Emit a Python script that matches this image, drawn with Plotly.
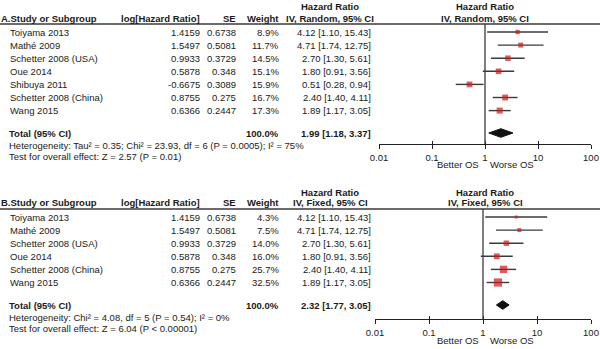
import plotly.graph_objects as go

# ---------------- data ----------------
studies_a = ["Toiyama 2013", "Mathé 2009", "Schetter 2008 (USA)", "Oue 2014",
             "Shibuya 2011", "Schetter 2008 (China)", "Wang 2015"]
loghr_a = ["1.4159", "1.5497", "0.9933", "0.5878", "-0.6675", "0.8755", "0.6366"]
se_a = ["0.6738", "0.5081", "0.3729", "0.348", "0.3089", "0.275", "0.2447"]
weight_a = [8.9, 11.7, 14.5, 15.1, 15.9, 16.7, 17.3]
hr_a = [4.12, 4.71, 2.70, 1.80, 0.51, 2.40, 1.89]
lo_a = [1.10, 1.74, 1.30, 0.91, 0.28, 1.40, 1.17]
hi_a = [15.43, 12.75, 5.61, 3.56, 0.94, 4.11, 3.05]
total_a = (1.99, 1.18, 3.37)
het_a = "Heterogeneity: Tau² = 0.35; Chi² = 23.93, df = 6 (P = 0.0005); I² = 75%"
test_a = "Test for overall effect: Z = 2.57 (P = 0.01)"

studies_b = ["Toiyama 2013", "Mathé 2009", "Schetter 2008 (USA)", "Oue 2014",
             "Schetter 2008 (China)", "Wang 2015"]
loghr_b = ["1.4159", "1.5497", "0.9933", "0.5878", "0.8755", "0.6366"]
se_b = ["0.6738", "0.5081", "0.3729", "0.348", "0.275", "0.2447"]
weight_b = [4.3, 7.5, 14.0, 16.0, 25.7, 32.5]
hr_b = [4.12, 4.71, 2.70, 1.80, 2.40, 1.89]
lo_b = [1.10, 1.74, 1.30, 0.91, 1.40, 1.17]
hi_b = [15.43, 12.75, 5.61, 3.56, 4.11, 3.05]
total_b = (2.32, 1.77, 3.05)
het_b = "Heterogeneity: Chi² = 4.08, df = 5 (P = 0.54); I² = 0%"
test_b = "Test for overall effect: Z = 6.04 (P < 0.00001)"

tick_vals = [0.01, 0.1, 1, 10, 100]
tick_text = ["0.01", "0.1", "1", "10", "100"]

# ---------------- layout constants ----------------
W, H = 600, 349
FONT = "Liberation Sans, Arial, sans-serif"
TXT = "#1a1a1a"
LINE = "#3a3a3a"
RED = "#cc1a1a"
PITCH = 13.1
FS = 9.5

fig = go.Figure()


def px(x):
    return x / W


def py(y):
    return 1 - y / H


def panel(letter, method, studies, loghr, se, weight, hr, lo, hi, total, het, test,
          first_row_px, axis_px, top_px, plot_x0, plot_x1, xa, ya, xo, total_row_px):
    yref = ya.replace("axis", "")
    xref = xa.replace("axis", "")
    oref = xo.replace("axis", "")
    n = len(studies)
    to_row = lambda p: (p - first_row_px) / PITCH
    row_px = lambda r: first_row_px + r * PITCH
    y_axis = to_row(axis_px)
    y_top = to_row(top_px)
    rows = list(range(n))
    total_row = to_row(total_row_px)

    common = dict(type="log", range=[-2, 2], domain=[px(plot_x0), px(plot_x1)],
                  anchor=yref, tickvals=tick_vals, tickwidth=1.3, tickcolor="#222",
                  showgrid=False, zeroline=False)
    fig.update_layout(**{
        xa: dict(common, ticktext=tick_text, ticks="outside", ticklen=4,
                 showline=True, linecolor="#222", linewidth=1.3,
                 tickfont=dict(family=FONT, size=FS, color=TXT)),
        xo: dict(common, overlaying=xref, ticks="inside", ticklen=3,
                 showticklabels=False, showline=False),
        ya: dict(range=[y_axis, y_top], domain=[py(axis_px), py(top_px)],
                 anchor=xref, visible=False, showgrid=False, zeroline=False),
    })
    # invisible trace to register the tick overlay axis
    fig.add_trace(go.Scatter(x=tick_vals, y=[y_axis] * len(tick_vals), mode="markers",
                             marker=dict(opacity=0), xaxis=oref, yaxis=yref,
                             hoverinfo="skip", showlegend=False))

    xs, ys = [], []
    for r, l, h in zip(rows, lo, hi):
        xs += [l, h, None]
        ys += [r, r, None]
    fig.add_trace(go.Scatter(x=xs, y=ys, mode="lines", xaxis=xref, yaxis=yref,
                             line=dict(color=LINE, width=1.4), hoverinfo="skip",
                             showlegend=False, cliponaxis=False))
    fig.add_trace(go.Scatter(x=hr, y=rows, mode="markers", xaxis=xref, yaxis=yref,
                             marker=dict(symbol="square", color=RED,
                                         size=[1.45 * w ** 0.5 for w in weight],
                                         line=dict(width=0)),
                             showlegend=False, cliponaxis=False))
    est, tl, th = total
    fig.add_trace(go.Scatter(x=[tl, est, th, est, tl],
                             y=[total_row, total_row - 0.33, total_row, total_row + 0.33, total_row],
                             mode="lines", fill="toself", fillcolor="#111",
                             line=dict(color="#111", width=1), xaxis=xref, yaxis=yref,
                             showlegend=False, cliponaxis=False))
    fig.add_shape(type="line", xref=xref, yref=yref, x0=1, x1=1, y0=y_top, y1=y_axis,
                  line=dict(color=LINE, width=1.3))
    fig.add_shape(type="line", xref="paper", yref="paper", x0=0, x1=1,
                  y0=py(top_px), y1=py(top_px), line=dict(color=LINE, width=1.3))

    def ann(text, x, ypix, anchor="left", bold=False, size=FS):
        if bold:
            text = "<b>" + text + "</b>"
        fig.add_annotation(text=text, x=px(x), y=py(ypix), xref="paper", yref="paper",
                           xanchor=anchor, yanchor="middle", showarrow=False,
                           borderpad=0, font=dict(family=FONT, size=size, color=TXT))

    h1 = top_px - 17
    h2 = top_px - 6
    ann("Hazard Ratio", 330, h1, "center", True)
    ann("Hazard Ratio", 485, h1, "center", True)
    ann(letter + ".Study or Subgroup", 0, h2, "left", True)
    ann("log[Hazard Ratio]", 201, h2, "right", True)
    ann("SE", 237, h2, "right", True)
    ann("Weight", 280, h2, "right", True)
    ann("IV, " + method + ", 95% CI", 330, h2, "center", True)
    ann("IV, " + method + ", 95% CI", 485, h2, "center", True)

    for r, s, lg, e, w, m, l, h in zip(rows, studies, loghr, se, weight, hr, lo, hi):
        yp = row_px(r)
        ann(s, 9, yp)
        ann(lg, 201, yp, "right")
        ann(e, 237, yp, "right")
        ann(f"{w:.1f}%", 280, yp, "right")
        ann(f"{m:.2f} [{l:.2f}, {h:.2f}]", 372, yp, "right")

    ann("Total (95% CI)", 8, total_row_px, "left", True)
    ann("100.0%", 280, total_row_px, "right", True)
    ann(f"{est:.2f} [{tl:.2f}, {th:.2f}]", 372, total_row_px, "right", True)
    ann(het, 8, total_row_px + 12)
    ann(test, 8, total_row_px + 23.5)
    ann("Better OS", 480, axis_px + 21, "right")
    ann("Worse OS", 489, axis_px + 21, "left")


panel("A", "Random", studies_a, loghr_a, se_a, weight_a, hr_a, lo_a, hi_a, total_a,
      het_a, test_a, first_row_px=32, axis_px=144, top_px=24, plot_x0=379, plot_x1=591,
      xa="xaxis", ya="yaxis", xo="xaxis3", total_row_px=133)
panel("B", "Fixed", studies_b, loghr_b, se_b, weight_b, hr_b, lo_b, hi_b, total_b,
      het_b, test_b, first_row_px=217, axis_px=319, top_px=209, plot_x0=375, plot_x1=591,
      xa="xaxis2", ya="yaxis2", xo="xaxis4", total_row_px=305)

fig.update_layout(width=W, height=H, margin=dict(l=0, r=0, t=0, b=0, autoexpand=False),
                  paper_bgcolor="white", plot_bgcolor="rgba(0,0,0,0)",
                  showlegend=False, font=dict(family=FONT, color=TXT))

fig.write_html("out.html", config={"displayModeBar": False},
               post_script="document.body.style.margin='0';document.body.style.padding='0';")
